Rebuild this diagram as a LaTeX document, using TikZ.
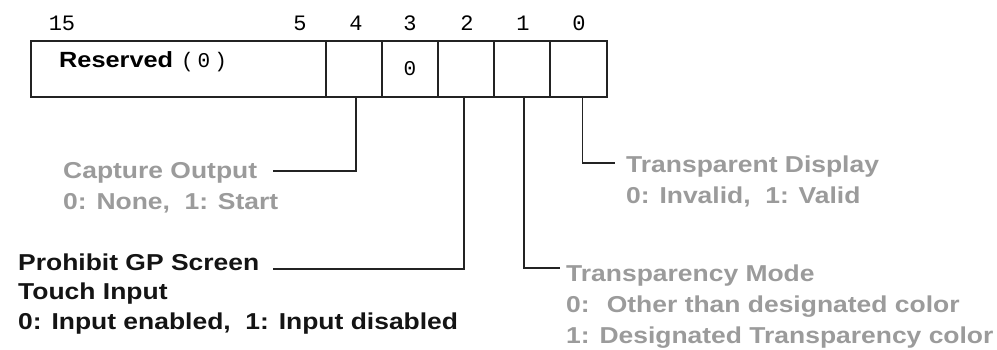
\documentclass[tikz,border=0pt]{standalone}
\usepackage{fontspec}
\setmainfont{Liberation Sans}
\newfontfamily\descfont[FakeStretch=1.15]{Liberation Sans}
\newfontfamily\bitfont{Liberation Mono}
\usetikzlibrary{positioning}
\definecolor{regline}{RGB}{35,35,35}
\definecolor{descgray}{RGB}{155,155,155}
\definecolor{descdark}{RGB}{20,20,20}
\tikzset{
  regcell/.style={draw=regline, line width=1.4pt, minimum width=56pt,
    minimum height=56pt, inner sep=0pt, outer sep=0pt, anchor=west,
    font=\bitfont\fontsize{21}{21}\selectfont},
  bitnum/.style={anchor=base, inner sep=0pt, font=\bitfont\fontsize{22}{22}\selectfont},
  leader/.style={draw=regline, line width=1.4pt},
  desc/.style={anchor=base west, align=left, inner sep=0pt, text=descgray,
    font=\descfont\bfseries\fontsize{23}{31}\selectfont}
}

\begin{document}
\begin{tikzpicture}[x=1pt,y=-1pt]
  \useasboundingbox (0,0) rectangle (997,349);
  \fill[white] (0,0) rectangle (997,349);
  % register cells
  \node[regcell, minimum width=295pt] (rsv) at (31,69) {};
  \node[regcell] (b4) at (326,69) {};
  \node[regcell] (b3) at (382,69) {\raisebox{-3pt}{0}};
  \node[regcell] (b2) at (438,69) {};
  \node[regcell] (b1) at (494,69) {};
  \node[regcell, minimum width=57pt] (b0) at (550,69) {};
  \node[anchor=base west, inner sep=0pt] (rsvtext) at (59,67)
    {\descfont\bfseries\fontsize{22}{22}\selectfont Reserved\hspace{8pt}\bitfont\mdseries\fontsize{21}{21}\selectfont(\hspace{4pt}0\hspace{4pt})};
  % bit numbers
  \node[bitnum] (n15) at (62,30) {15};
  \node[bitnum] (n5) at (300,30) {5};
  \node[bitnum] (n4) at (356,30) {4};
  \node[bitnum] (n3) at (410,30) {3};
  \node[bitnum] (n2) at (467,30) {2};
  \node[bitnum] (n1) at (523,30) {1};
  \node[bitnum] (n0) at (579,30) {0};
  % descriptions (anchored at the baseline of the last line)
  \node[desc] (capt) at (63,209) {Capture Output\\0: None,~ 1: Start};
  \node[desc, text=descdark, font=\descfont\bfseries\fontsize{23}{29.5}\selectfont] (prohib) at (18,329)
    {Prohibit GP Screen\\Touch Input\\0: Input enabled,~ 1: Input disabled};
  \node[desc] (tmode) at (566,343)
    {Transparency Mode\\0:~ Other than designated color\\1: Designated Transparency color};
  \node[desc] (tdisp) at (626,203) {Transparent Display\\0: Invalid,~ 1: Valid};
  % leaders
  \coordinate (captend) at (273,171);
  \coordinate (prohibend) at (273,269);
  \coordinate (tmodeend) at (560,268);
  \coordinate (tdispend) at (615,163);
  \draw[leader] ([xshift=2pt]b4.south) |- (captend);
  \draw[leader] ([xshift=-2pt]b2.south) |- (prohibend);
  \draw[leader] ([xshift=2pt]b1.south) |- (tmodeend);
  \draw[leader] ([xshift=4pt]b0.south) |- (tdispend);
\end{tikzpicture}
\end{document}
